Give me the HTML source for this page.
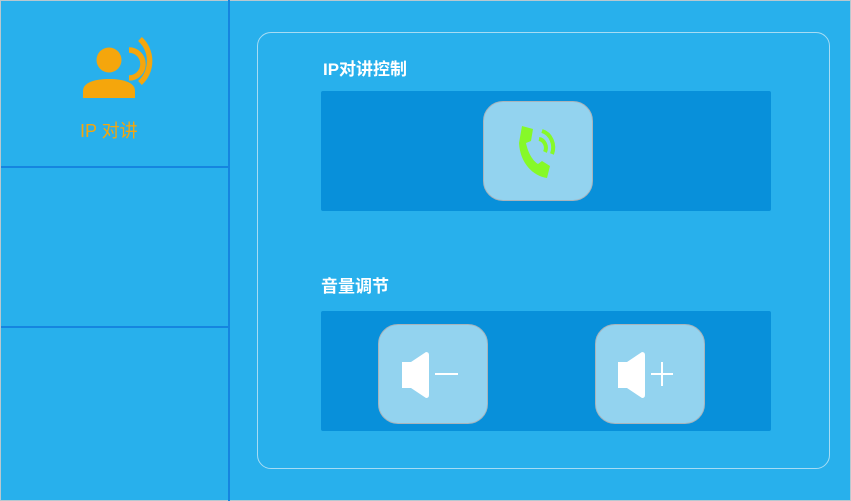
<!DOCTYPE html><html><head><meta charset="utf-8"><style>
body{margin:0;width:851px;height:501px;background:#28B0EC;position:relative;overflow:hidden;font-family:"Liberation Sans","Noto Sans CJK SC",sans-serif}
.a{position:absolute}
.btn{position:absolute;width:108px;height:98px;background:#93D3EF;border:1px solid #a8b4bc;border-radius:20px}
</style></head><body>
<div class="a" style="left:0;top:0;width:849px;height:499px;border:1px solid #b8c8d0"></div>
<div class="a" style="left:228px;top:0;width:2px;height:501px;background:#1585E0"></div>
<div class="a" style="left:1px;top:166px;width:228px;height:2px;background:#1585E0"></div>
<div class="a" style="left:1px;top:326px;width:228px;height:2px;background:#1585E0"></div>
<svg class="a" style="left:78px;top:34px" width="80" height="68" viewBox="0 0 80 68">
<circle cx="31" cy="26" r="12.5" fill="#F5A60C"/>
<path d="M5 64 V57 C5 48 18 45 31 45 C44 45 57 48 57 57 V64 Z" fill="#F5A60C"/>
<path d="M51 16 A14 14 0 0 1 51 44" stroke="#F5A60C" stroke-width="5.5" fill="none"/>
<path d="M62 5 A30 30 0 0 1 62 49" stroke="#F5A60C" stroke-width="5.5" fill="none"/>
</svg>
<div class="a" style="left:80px;top:117px;color:#F5A60C;font-size:18px">IP 对讲</div>
<div class="a" style="left:257px;top:32px;width:571px;height:435px;border:1.5px solid #A6DCF4;border-radius:14px"></div>
<div class="a" style="left:323px;top:55px;color:#fff;font-size:17px;font-weight:bold">IP对讲控制</div>
<div class="a" style="left:321px;top:91px;width:450px;height:120px;background:#0890DA;border-radius:2px"></div>
<div class="btn" style="left:483px;top:101px"></div>
<svg class="a" style="left:515px;top:123px" width="50" height="56" viewBox="0 0 50 56">
<path d="M7 3 L18 6 L16 18 L11 20 C13 30 18 38 23 41 L27 38 L35 43 L32 55 C18 53 5 40 4 20 Z" fill="#86F928"/>
<path d="M27 8 A15 17 0 0 1 37 31" stroke="#86F928" stroke-width="4" fill="none"/>
<path d="M24 16 A8 9 0 0 1 30 29" stroke="#86F928" stroke-width="4" fill="none"/>
</svg>
<div class="a" style="left:321px;top:272px;color:#fff;font-size:17px;font-weight:bold">音量调节</div>
<div class="a" style="left:321px;top:311px;width:450px;height:120px;background:#0890DA;border-radius:2px"></div>
<div class="btn" style="left:378px;top:324px"></div>
<div class="btn" style="left:595px;top:324px"></div>
<svg class="a" style="left:400px;top:352px" width="60" height="48">
<path d="M2 10 H11 L26 0 Q29 0 29 3 V43 Q29 46 26 46 L11 36 H2 Z" fill="#fff"/>
<rect x="35" y="21" width="23" height="2" fill="#fff"/>
</svg>
<svg class="a" style="left:616px;top:352px" width="60" height="48">
<path d="M2 10 H11 L26 0 Q29 0 29 3 V43 Q29 46 26 46 L11 36 H2 Z" fill="#fff"/>
<rect x="35" y="21" width="22" height="2" fill="#fff"/><rect x="45" y="10" width="2" height="24" fill="#fff"/>
</svg>
</body></html>
